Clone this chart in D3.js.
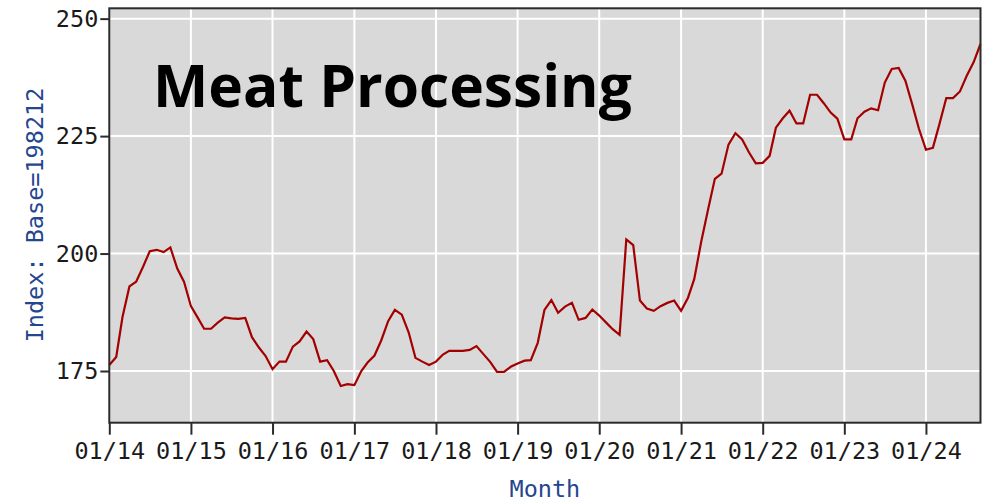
<!DOCTYPE html>
<html>
<head>
<meta charset="utf-8">
<script src="https://cdn.jsdelivr.net/npm/d3@7"></script>
<style>
  html, body { margin: 0; padding: 0; background: #ffffff; }
  svg { display: block; }
</style>
</head>
<body>
<svg id="chart" width="986" height="502"></svg>
<script>
// ---- data ----
const title = "Meat Processing";
const yAxisTitle = "Index: Base=198212";
const xAxisTitle = "Month";
const firstMonth = "2014-01";
const xTickYears = [2014, 2015, 2016, 2017, 2018, 2019, 2020, 2021, 2022, 2023, 2024];
const xTickLabels = ["01/14","01/15","01/16","01/17","01/18","01/19","01/20","01/21","01/22","01/23","01/24"];
const yTickValues = [175, 200, 225, 250];
// monthly index values, Jan 2014 .. Sep 2024
const values = [
  176.3, 178.0, 186.5, 193.0, 194.0, 197.2, 200.5, 200.8, 200.3, 201.3, 196.8, 194.0,
  188.8, 186.3, 184.0, 184.0, 185.3, 186.4, 186.2, 186.1, 186.3, 182.2, 180.0, 178.2,
  175.4, 177.0, 177.0, 180.2, 181.3, 183.4, 181.8, 177.0, 177.3, 175.0, 171.8, 172.2,
  172.0, 175.0, 176.8, 178.3, 181.5, 185.6, 188.0, 187.0, 183.2, 177.8, 177.0, 176.3,
  177.0, 178.5, 179.3, 179.3, 179.3, 179.5, 180.3, 178.6, 176.9, 174.8, 174.8, 175.9,
  176.6, 177.2, 177.3, 181.0, 188.0, 190.1, 187.4, 188.7, 189.5, 185.9, 186.3, 188.1,
  186.8, 185.3, 183.9, 182.7, 203.0, 201.8, 190.0, 188.3, 187.8, 188.8, 189.5, 190.0,
  187.8, 190.6, 194.6, 202.5, 209.2, 215.9, 217.0, 223.2, 225.6, 224.3, 221.5, 219.2,
  219.3, 220.8, 226.8, 228.8, 230.4, 227.7, 227.7, 233.8, 233.8, 232.0, 230.0, 228.7,
  224.3, 224.3, 228.8, 230.2, 230.9, 230.5, 236.4, 239.3, 239.5, 236.8, 231.7, 226.5,
  222.1, 222.5, 227.5, 233.1, 233.1, 234.5, 237.8, 240.7, 244.6
];

// ---- layout ----
const plot = { left: 109.3, right: 980.5, top: 8.3, bottom: 422.7 };
const svg = d3.select("#chart");
const parse = d3.timeParse("%Y-%m");
const start = parse(firstMonth);
const data = values.map((v, i) => ({ date: d3.timeMonth.offset(start, i), value: v }));

const x = d3.scaleTime()
  .domain([data[0].date, data[data.length - 1].date])
  .range([plot.left, plot.right]);
const y = d3.scaleLinear()
  .domain([164.0, 252.2])
  .range([plot.bottom, plot.top]);

// background
svg.append("rect")
  .attr("x", plot.left).attr("y", plot.top)
  .attr("width", plot.right - plot.left).attr("height", plot.bottom - plot.top)
  .attr("fill", "#d9d9d9");

// grid
const tickDates = xTickYears.map(yr => new Date(yr, 0, 1));
svg.append("g").selectAll("line.vg").data(tickDates).join("line")
  .attr("x1", d => x(d)).attr("x2", d => x(d))
  .attr("y1", plot.top).attr("y2", plot.bottom)
  .attr("stroke", "#ffffff").attr("stroke-width", 2);
svg.append("g").selectAll("line.hg").data(yTickValues).join("line")
  .attr("x1", plot.left).attr("x2", plot.right)
  .attr("y1", d => y(d)).attr("y2", d => y(d))
  .attr("stroke", "#ffffff").attr("stroke-width", 2);

// title
const titleText = svg.append("text")
  .attr("x", 153).attr("y", 107)
  .attr("font-family", "'Open Sans', 'Noto Sans', sans-serif")
  .attr("font-weight", 700)
  .attr("font-size", 58)
  .attr("fill", "#000000")
  .text(title);
const tw = titleText.node().getComputedTextLength();
titleText.attr("font-size", 58 * 479 / tw);

// line
const line = d3.line().x(d => x(d.date)).y(d => y(d.value));
svg.append("path").datum(data)
  .attr("d", line)
  .attr("fill", "none")
  .attr("stroke", "#a30000")
  .attr("stroke-width", 2.2)
  .attr("stroke-linejoin", "miter");

// frame
svg.append("rect")
  .attr("x", plot.left).attr("y", plot.top)
  .attr("width", plot.right - plot.left).attr("height", plot.bottom - plot.top)
  .attr("fill", "none").attr("stroke", "#2b2b2b").attr("stroke-width", 2);

const monoFont = "'DejaVu Sans Mono', 'Liberation Mono', monospace";
const labelSize = 23.5;

// axes
const yAxis = d3.axisLeft(y).tickValues(yTickValues).tickSize(9).tickPadding(2).tickFormat(d3.format("d"));
const gy = svg.append("g").attr("transform", `translate(${plot.left},0)`).call(yAxis);
gy.select(".domain").remove();
gy.selectAll(".tick line").attr("stroke", "#2b2b2b").attr("stroke-width", 2);
gy.selectAll(".tick text").attr("font-family", monoFont).attr("font-size", labelSize).attr("fill", "#1a1a1a");

const xAxis = d3.axisBottom(x).tickValues(tickDates).tickSize(12).tickPadding(8)
  .tickFormat((d, i) => xTickLabels[i]);
const gx = svg.append("g").attr("transform", `translate(0,${plot.bottom})`).call(xAxis);
gx.select(".domain").remove();
gx.selectAll(".tick line").attr("stroke", "#2b2b2b").attr("stroke-width", 2);
gx.selectAll(".tick text").attr("font-family", monoFont).attr("font-size", labelSize).attr("fill", "#1a1a1a");

// axis titles
svg.append("text")
  .attr("transform", `translate(43,215) rotate(-90)`)
  .attr("text-anchor", "middle")
  .attr("font-family", monoFont).attr("font-size", labelSize)
  .attr("fill", "#24468f")
  .text(yAxisTitle);
svg.append("text")
  .attr("x", (plot.left + plot.right) / 2).attr("y", 497)
  .attr("text-anchor", "middle")
  .attr("font-family", monoFont).attr("font-size", labelSize)
  .attr("fill", "#24468f")
  .text(xAxisTitle);
</script>
</body>
</html>
